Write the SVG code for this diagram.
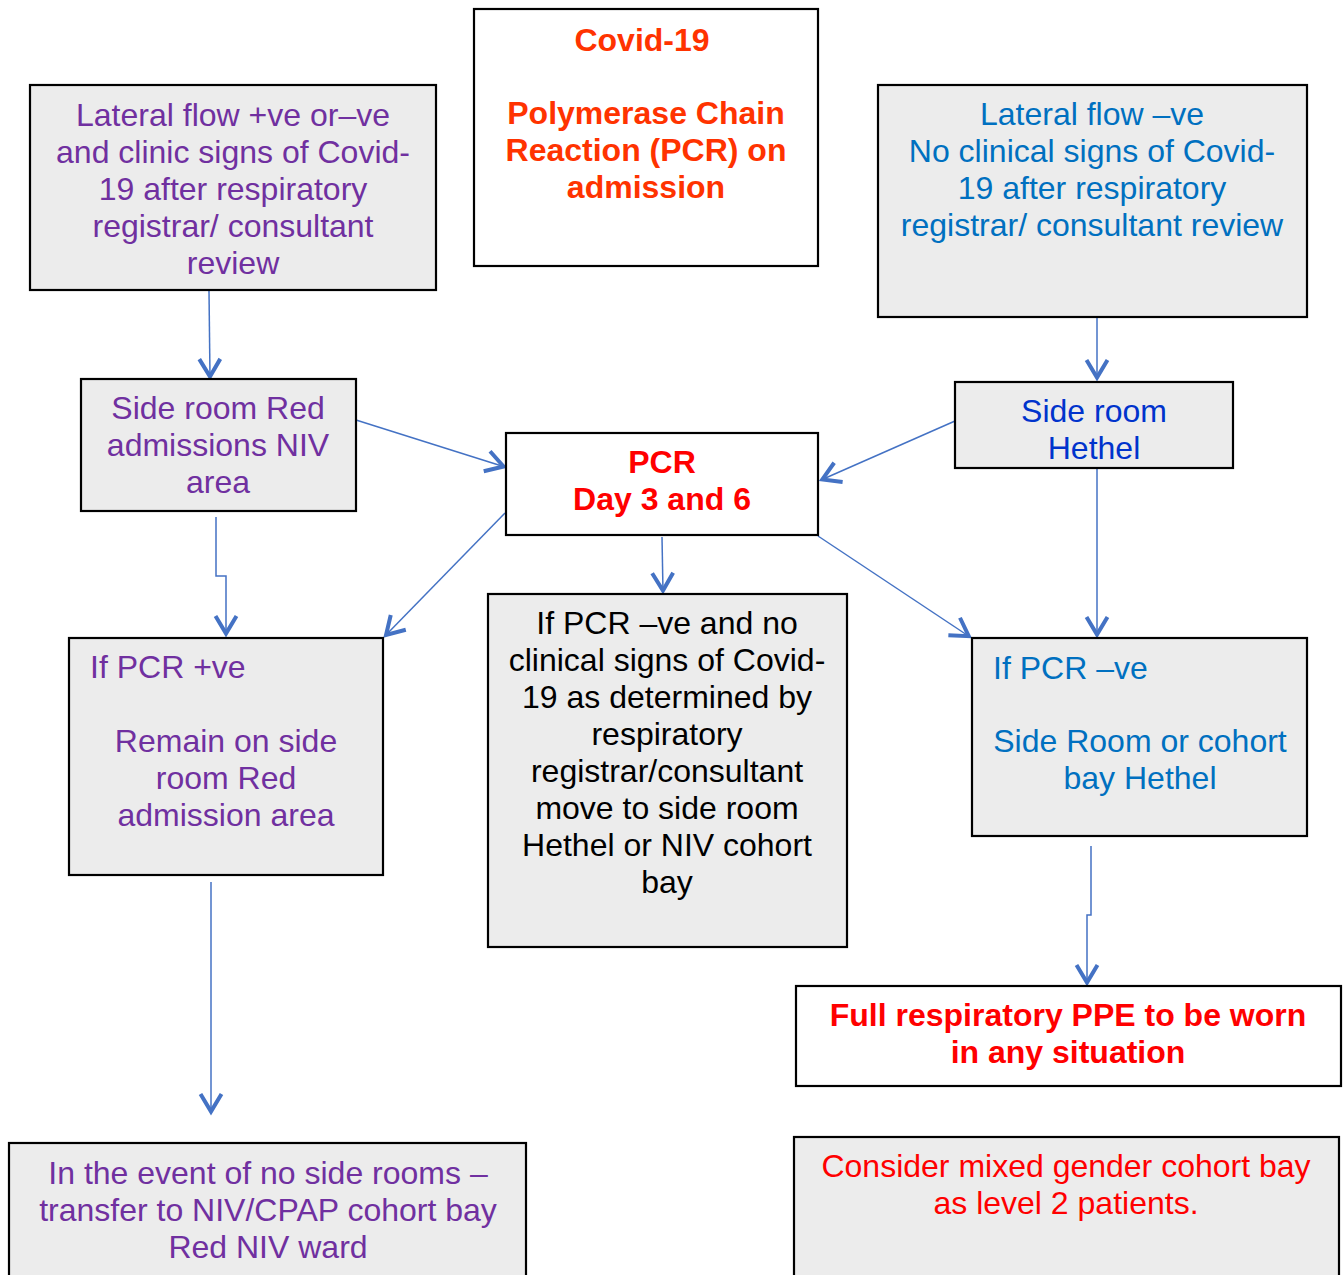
<svg xmlns="http://www.w3.org/2000/svg" width="1344" height="1275" viewBox="0 0 1344 1275">
<defs>
<style>
.box{stroke:#000;stroke-width:2.2}
.g{fill:#ececec}
.w{fill:#fff}
text{font-family:"Liberation Sans",Arial,sans-serif;font-size:32px}
.c{text-anchor:middle}
.b{font-weight:bold}
.pu{fill:#7030a0}
.bl{fill:#0070c0}
.db{fill:#0033cc}
.rd{fill:#ff0000}
.or{fill:#ff3300}
.k{fill:#000}
.conn{fill:none;stroke:#4472c4;stroke-width:1.5}
</style>
<marker id="ah" markerUnits="userSpaceOnUse" markerWidth="30" markerHeight="30" viewBox="-25 -15 30 30" refX="0" refY="0" orient="auto" overflow="visible">
<path d="M-19,-10.5 L-1.5,0 L-19,10.5" fill="none" stroke="#4472c4" stroke-width="4"/>
</marker>
</defs>
<rect width="1344" height="1275" fill="#fff"/>
<g id="connectors">
<path class="conn" d="M209,291 L210,378" marker-end="url(#ah)"/>
<path class="conn" d="M356,420 L505,467" marker-end="url(#ah)"/>
<path class="conn" d="M955,421 L821,480" marker-end="url(#ah)"/>
<path class="conn" d="M216,517 L216,576 L226,576 L226,635" marker-end="url(#ah)"/>
<path class="conn" d="M505,513 L385,636" marker-end="url(#ah)"/>
<path class="conn" d="M662,537 L663,592" marker-end="url(#ah)"/>
<path class="conn" d="M818,536 L970,637" marker-end="url(#ah)"/>
<path class="conn" d="M1097,318 L1097,379" marker-end="url(#ah)"/>
<path class="conn" d="M1097,469 L1097,636" marker-end="url(#ah)"/>
<path class="conn" d="M1091,846 L1091,915 L1087,915 L1087,984" marker-end="url(#ah)"/>
<path class="conn" d="M211,882 L211,1113" marker-end="url(#ah)"/>
</g>
<g id="n-lateral-pos">
<rect class="box g" x="30" y="85" width="406" height="205"/>
<text class="c pu"><tspan x="233" y="126">Lateral flow +ve or–ve</tspan><tspan x="233" y="163">and clinic signs of Covid-</tspan><tspan x="233" y="200">19 after respiratory</tspan><tspan x="233" y="237">registrar/ consultant</tspan><tspan x="233" y="274">review</tspan></text>
</g>
<g id="n-covid">
<rect class="box w" x="474" y="9" width="344" height="257"/>
<text class="c b or"><tspan x="642" y="51">Covid-19</tspan><tspan x="646" y="124">Polymerase Chain</tspan><tspan x="646" y="161">Reaction (PCR) on</tspan><tspan x="646" y="198">admission</tspan></text>
</g>
<g id="n-lateral-neg">
<rect class="box g" x="878" y="85" width="429" height="232"/>
<text class="c bl"><tspan x="1092" y="125">Lateral flow –ve</tspan><tspan x="1092" y="162">No clinical signs of Covid-</tspan><tspan x="1092" y="199">19 after respiratory</tspan><tspan x="1092" y="236">registrar/ consultant review</tspan></text>
</g>
<g id="n-side-red">
<rect class="box g" x="81" y="379" width="275" height="132"/>
<text class="c pu"><tspan x="218" y="419">Side room Red</tspan><tspan x="218" y="456">admissions NIV</tspan><tspan x="218" y="493">area</tspan></text>
</g>
<g id="n-pcr">
<rect class="box w" x="506" y="433" width="312" height="102"/>
<text class="c b rd"><tspan x="662" y="473">PCR</tspan><tspan x="662" y="510">Day 3 and 6</tspan></text>
</g>
<g id="n-side-hethel">
<rect class="box g" x="955" y="382" width="278" height="86"/>
<text class="c db"><tspan x="1094" y="422">Side room</tspan><tspan x="1094" y="459">Hethel</tspan></text>
</g>
<g id="n-pcr-pos">
<rect class="box g" x="69" y="638" width="314" height="237"/>
<text class="pu" x="90" y="678">If PCR +ve</text>
<text class="c pu"><tspan x="226" y="752">Remain on side</tspan><tspan x="226" y="789">room Red</tspan><tspan x="226" y="826">admission area</tspan></text>
</g>
<g id="n-pcr-neg-clin">
<rect class="box g" x="488" y="594" width="359" height="353"/>
<text class="c k"><tspan x="667" y="634">If PCR –ve and no</tspan><tspan x="667" y="671">clinical signs of Covid-</tspan><tspan x="667" y="708">19 as determined by</tspan><tspan x="667" y="745">respiratory</tspan><tspan x="667" y="782">registrar/consultant</tspan><tspan x="667" y="819">move to side room</tspan><tspan x="667" y="856">Hethel or NIV cohort</tspan><tspan x="667" y="893">bay</tspan></text>
</g>
<g id="n-pcr-neg">
<rect class="box g" x="972" y="638" width="335" height="198"/>
<text class="bl" x="993" y="679">If PCR –ve</text>
<text class="c bl"><tspan x="1140" y="752">Side Room or cohort</tspan><tspan x="1140" y="789">bay Hethel</tspan></text>
</g>
<g id="n-ppe">
<rect class="box w" x="796" y="986" width="545" height="100"/>
<text class="c b rd"><tspan x="1068" y="1026">Full respiratory PPE to be worn</tspan><tspan x="1068" y="1063">in any situation</tspan></text>
</g>
<g id="n-mixed">
<rect class="box g" x="794" y="1137" width="545" height="150"/>
<text class="c rd"><tspan x="1066" y="1177">Consider mixed gender cohort bay</tspan><tspan x="1066" y="1214">as level 2 patients.</tspan></text>
</g>
<g id="n-no-side">
<rect class="box g" x="9" y="1143" width="517" height="150"/>
<text class="c pu"><tspan x="268" y="1184">In the event of no side rooms –</tspan><tspan x="268" y="1221">transfer to NIV/CPAP cohort bay</tspan><tspan x="268" y="1258">Red NIV ward</tspan></text>
</g>
</svg>
